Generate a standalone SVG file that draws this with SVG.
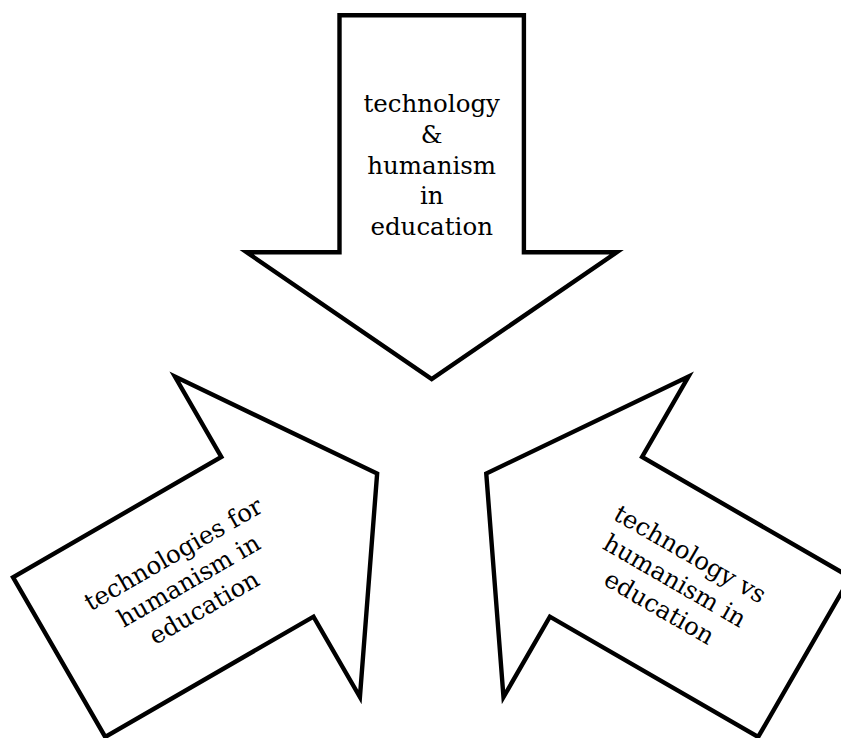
<svg xmlns="http://www.w3.org/2000/svg" width="841" height="738" viewBox="0 0 841 738">
<style>
.arrow{fill:#ffffff;stroke:#000000;stroke-width:4.4;stroke-linejoin:miter;stroke-miterlimit:10}
.lbl{font-family:"DejaVu Serif","Liberation Serif",serif;font-size:24.5px;fill:#000000;text-anchor:middle}
</style>
<rect width="841" height="738" fill="#ffffff"/>
<g id="connectors"></g>
<g id="node-top">
<path class="arrow" d="M339.5,15.3 H523.9 V252.3 H616.7 L431.7,379 L246.7,252.3 H339.5 Z"/>
<text class="lbl" x="431.7" y="112">technology</text>
<text class="lbl" x="431.7" y="142.8">&amp;</text>
<text class="lbl" x="431.7" y="173.6">humanism</text>
<text class="lbl" x="431.7" y="204.4">in</text>
<text class="lbl" x="431.7" y="235.2">education</text>
</g>
<g id="node-left">
<path class="arrow" transform="rotate(-120 431.7 442)" d="M339.5,11.8 H523.9 V252.3 H616.7 L431.7,379 L246.7,252.3 H339.5 Z"/>
<g transform="translate(192.8,588) rotate(-30)">
<text class="lbl" x="0" y="-30.8">technologies for</text>
<text class="lbl" x="0" y="0">humanism in</text>
<text class="lbl" x="0" y="30.8">education</text>
</g>
</g>
<g id="node-right">
<path class="arrow" transform="rotate(120 431.7 442)" d="M339.5,11.8 H523.9 V252.3 H616.7 L431.7,379 L246.7,252.3 H339.5 Z"/>
<g transform="translate(670.6,588) rotate(30)">
<text class="lbl" x="0" y="-30.8">technology vs</text>
<text class="lbl" x="0" y="0">humanism in</text>
<text class="lbl" x="0" y="30.8">education</text>
</g>
</g>
</svg>
